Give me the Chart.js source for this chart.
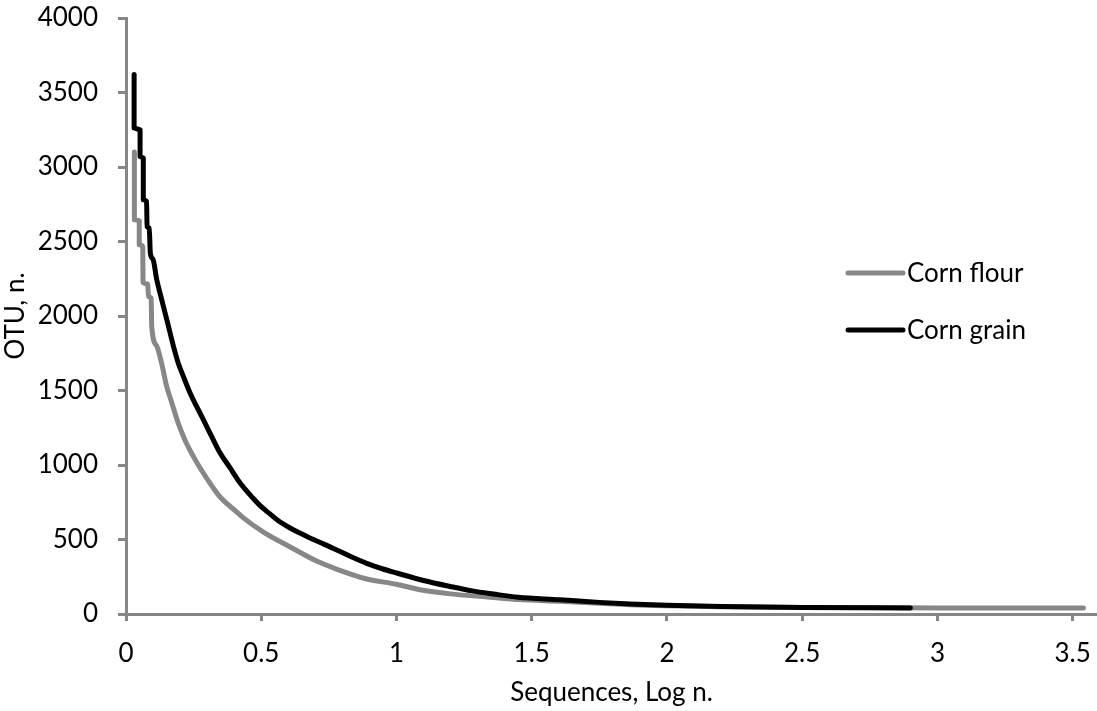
<!DOCTYPE html>
<html>
<head>
<meta charset="utf-8">
<script src="https://cdn.jsdelivr.net/npm/chart.js@4/dist/chart.umd.min.js"></script>
<style>
  html, body { margin: 0; padding: 0; background: #fff; }
  #wrap { position: relative; width: 1097px; height: 711px; }
</style>
</head>
<body>
<div id="wrap"><canvas id="chart" width="1097" height="711"></canvas></div>
<script>
var xTicks = [0, 0.5, 1, 1.5, 2, 2.5, 3, 3.5];
var yTicks = [0, 500, 1000, 1500, 2000, 2500, 3000, 3500, 4000];

var flourX = [0.031, 0.031, 0.049, 0.049, 0.062, 0.063, 0.080, 0.083, 0.093, 0.095, 0.113, 0.132, 0.150, 0.169, 0.193, 0.220, 0.249, 0.274, 0.323, 0.348, 0.409, 0.434, 0.508, 0.607, 0.705, 0.767, 0.890, 1.0, 1.087, 1.2, 1.358, 1.45, 1.605, 1.75, 1.864, 2.0, 2.2, 2.5, 3.0, 3.54];
var flourY = [3100, 2646, 2640, 2478, 2465, 2225, 2215, 2130, 2120, 1935, 1800, 1680, 1530, 1420, 1282, 1160, 1058, 980, 845, 785, 685, 645, 550, 450, 355, 309, 235, 200, 163, 135, 111, 97, 85, 72, 62, 55, 48, 43, 41, 40];

var grainX = [0.030, 0.030, 0.052, 0.052, 0.064, 0.064, 0.076, 0.078, 0.086, 0.090, 0.100, 0.113, 0.132, 0.153, 0.175, 0.193, 0.212, 0.237, 0.261, 0.280, 0.317, 0.348, 0.385, 0.422, 0.471, 0.496, 0.53, 0.570, 0.607, 0.643, 0.680, 0.72, 0.767, 0.82, 0.890, 0.95, 1.001, 1.1, 1.198, 1.28, 1.358, 1.45, 1.605, 1.75, 1.864, 2.0, 2.2, 2.5, 2.9];
var grainY = [3620, 3262, 3250, 3070, 3060, 2780, 2770, 2600, 2590, 2420, 2380, 2250, 2110, 1960, 1800, 1685, 1595, 1483, 1393, 1326, 1190, 1080, 980, 879, 775, 727, 675, 617, 577, 543, 510, 478, 440, 395, 340, 302, 275, 225, 185, 155, 134, 112, 96, 78, 67, 58, 50, 44, 41];

var seriesNames = ['Corn flour', 'Corn grain'];
var seriesColors = ['#878787', '#000000'];

var AXIS = '#868686';
var FONT = 'Lato, "Open Sans", sans-serif';

function toPoints(xs, ys) {
  return xs.map(function (x, i) { return { x: x, y: ys[i] }; });
}

var legendPlugin = {
  id: 'sideLegend',
  afterDraw: function (chart) {
    var ctx = chart.ctx;
    var rows = [273, 330];
    ctx.save();
    ctx.font = '26px ' + FONT;
    ctx.textBaseline = 'middle';
    ctx.textAlign = 'left';
    seriesNames.forEach(function (name, i) {
      ctx.strokeStyle = seriesColors[i];
      ctx.lineWidth = 5;
      ctx.lineCap = 'round';
      ctx.beginPath();
      ctx.moveTo(848, rows[i]);
      ctx.lineTo(903, rows[i]);
      ctx.stroke();
      ctx.fillStyle = '#000';
      ctx.fillText(name, 907, rows[i] + 1);
    });
    ctx.restore();
  }
};

new Chart(document.getElementById('chart'), {
  type: 'line',
  data: {
    datasets: [{
      label: seriesNames[0],
      data: toPoints(flourX, flourY),
      borderColor: seriesColors[0],
      borderWidth: 5,
      order: 2
    }, {
      label: seriesNames[1],
      data: toPoints(grainX, grainY),
      borderColor: seriesColors[1],
      borderWidth: 5,
      order: 1
    }]
  },
  options: {
    responsive: false,
    animation: false,
    layout: { padding: { top: 18, right: 0, left: 0, bottom: 0 } },
    elements: {
      point: { radius: 0 },
      line: { cubicInterpolationMode: 'monotone', borderCapStyle: 'round', borderJoinStyle: 'round', fill: false }
    },
    plugins: {
      legend: { display: false },
      tooltip: { enabled: false }
    },
    scales: {
      x: {
        type: 'linear',
        min: 0,
        max: 3.59,
        afterFit: function (scale) {
          scale.height = 97;
          scale.paddingLeft = 0;
          scale.paddingRight = 0;
        },
        afterBuildTicks: function (scale) {
          scale.ticks = xTicks.map(function (v) { return { value: v }; });
        },
        border: { color: AXIS, width: 3 },
        grid: { drawOnChartArea: false, color: AXIS, lineWidth: 3, tickLength: 7 },
        ticks: {
          color: '#000',
          font: { family: FONT, size: 26 },
          padding: 17,
          maxRotation: 0,
          callback: function (v) { return String(v); }
        },
        title: {
          display: true,
          text: 'Sequences, Log n.',
          color: '#000',
          font: { family: FONT, size: 26 },
          padding: { top: 0, bottom: 3 }
        }
      },
      y: {
        min: 0,
        max: 4000,
        afterFit: function (scale) {
          scale.width = 126;
          scale.paddingTop = 0;
          scale.paddingBottom = 0;
        },
        afterBuildTicks: function (scale) {
          scale.ticks = yTicks.map(function (v) { return { value: v }; });
        },
        border: { color: AXIS, width: 3 },
        grid: { drawOnChartArea: false, color: AXIS, lineWidth: 3, tickLength: 8 },
        ticks: {
          color: '#000',
          font: { family: FONT, size: 26 },
          padding: 20,
          callback: function (v) { return String(v); }
        },
        title: {
          display: true,
          text: 'OTU, n.',
          color: '#000',
          font: { family: FONT, size: 26 },
          padding: { top: 0, bottom: 0 }
        }
      }
    }
  },
  plugins: [legendPlugin]
});
</script>
</body>
</html>
